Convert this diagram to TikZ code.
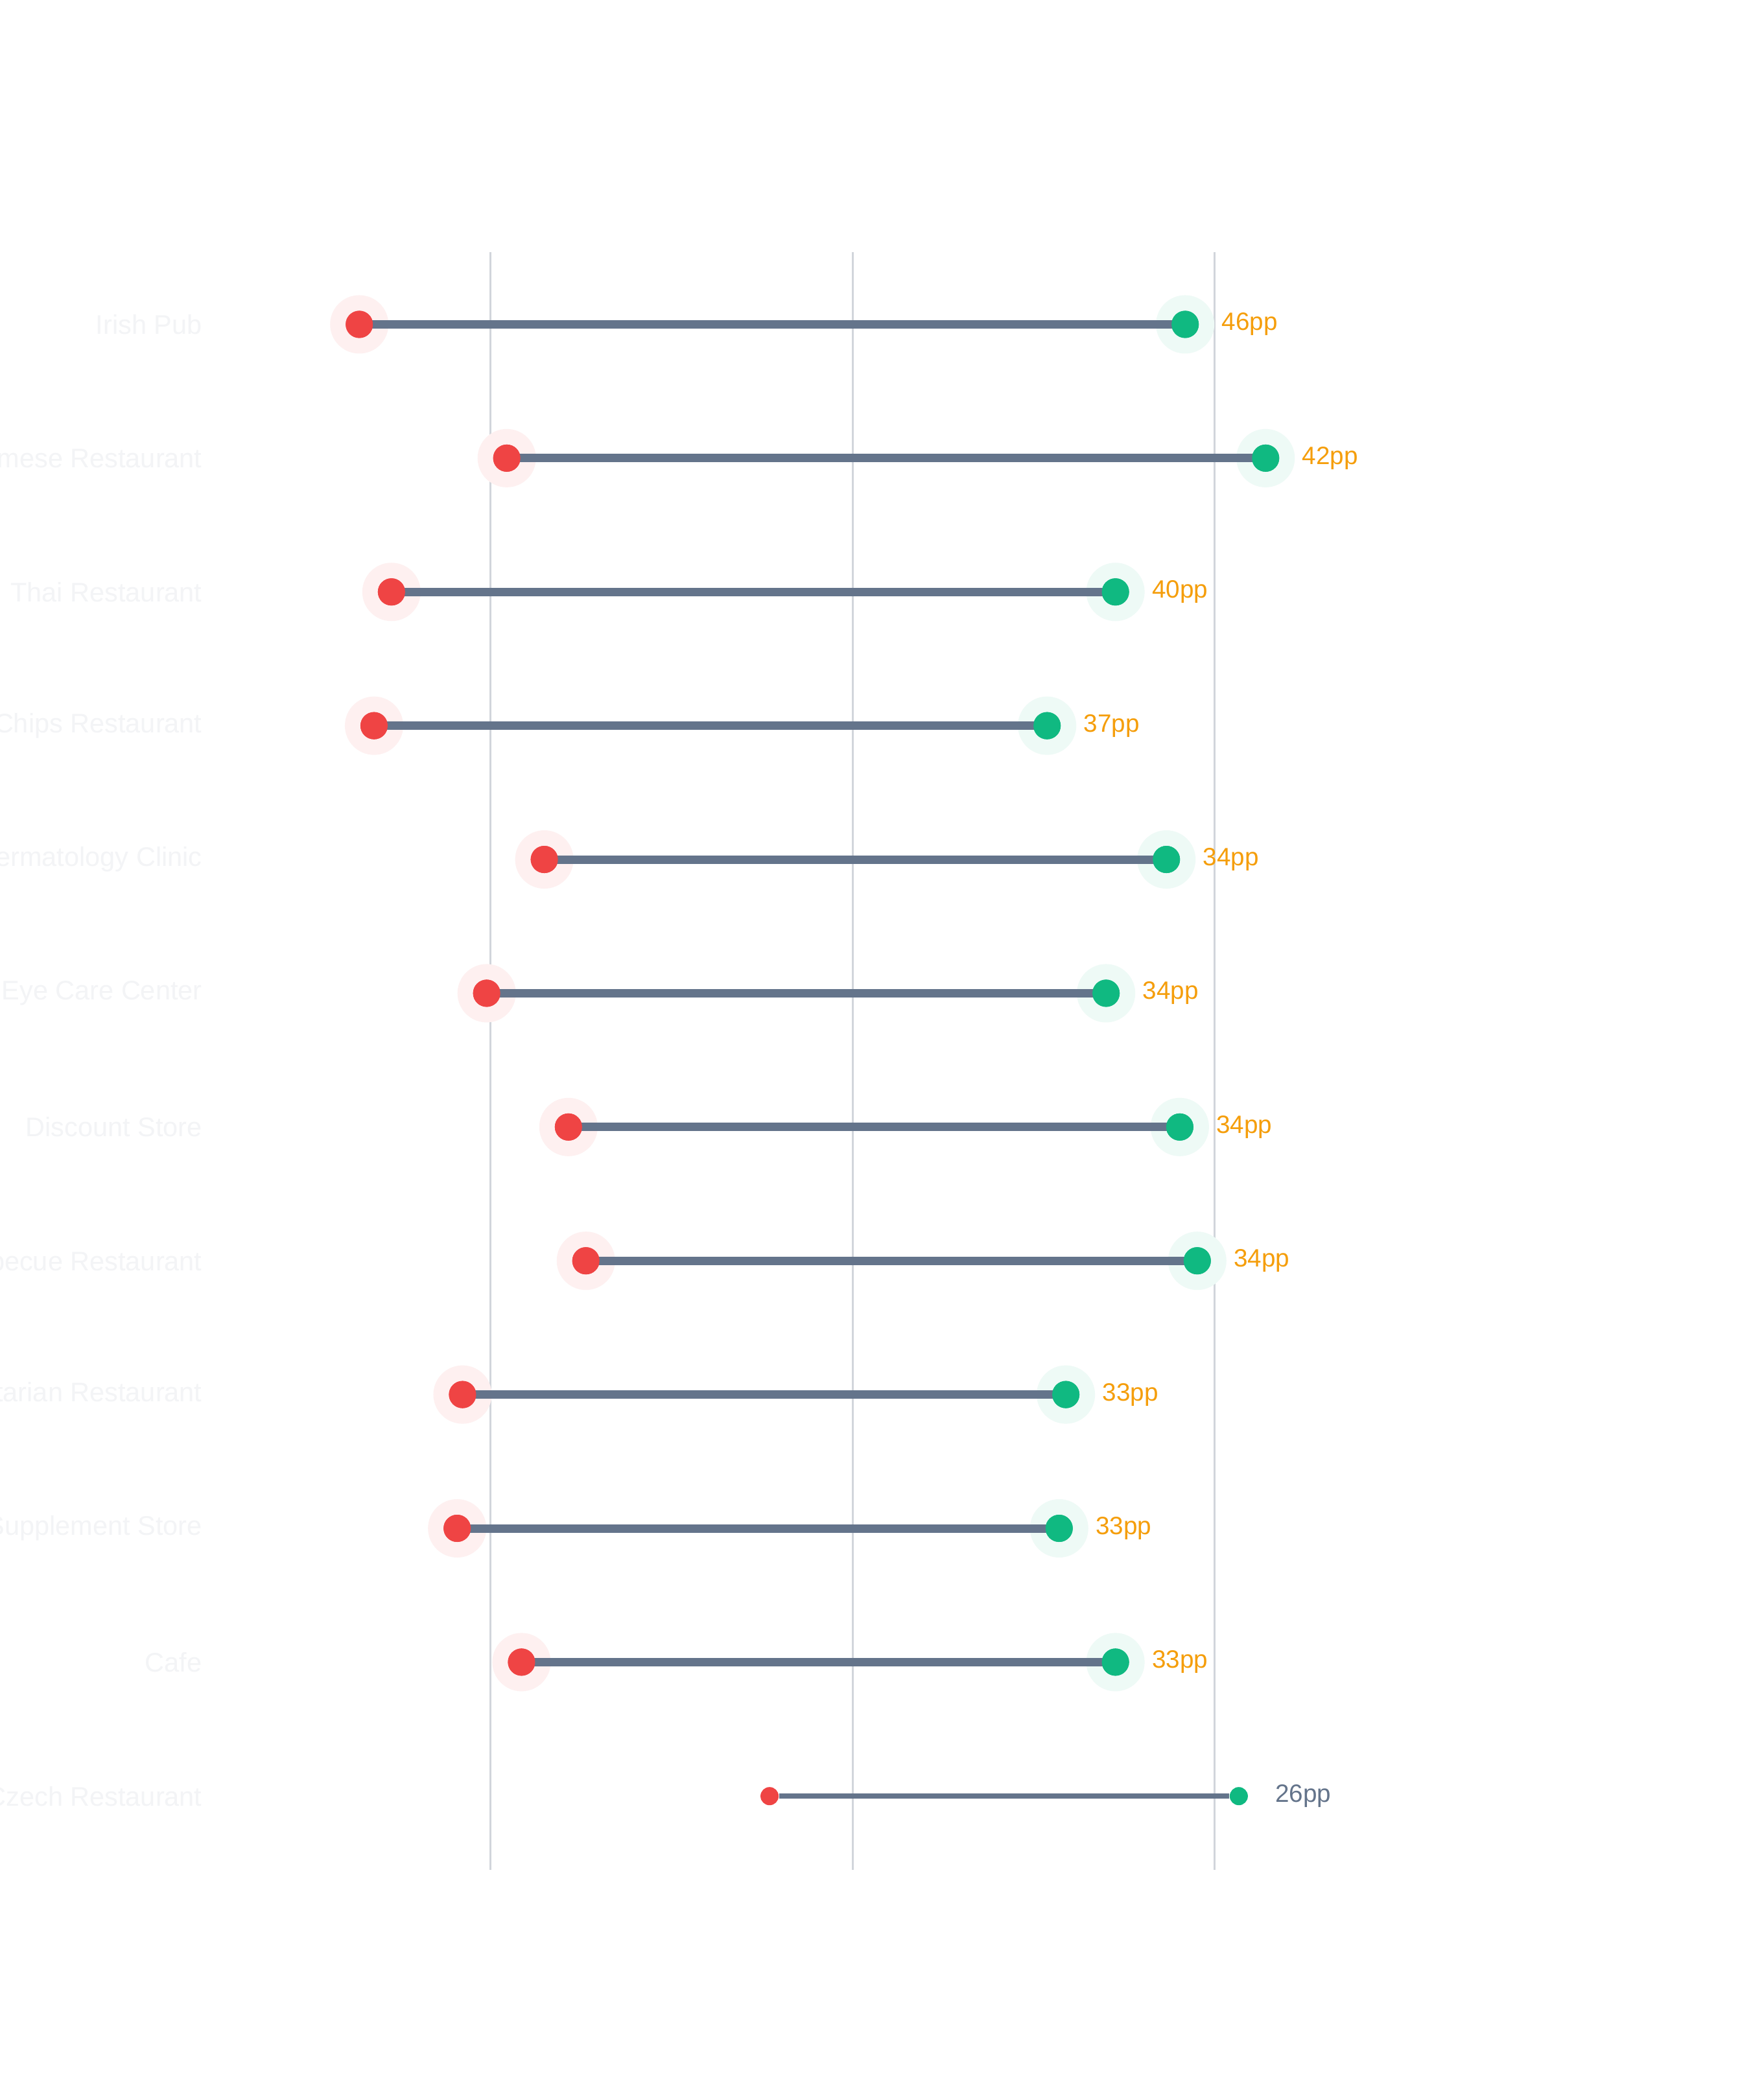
\documentclass[tikz,border=0pt]{standalone}
\usepackage{fontspec}
\setmainfont{Liberation Sans}
\definecolor{redd}{HTML}{EF4444}
\definecolor{grn}{HTML}{10B981}
\definecolor{bar}{HTML}{64748B}
\definecolor{org}{HTML}{F59E0B}
\definecolor{grid}{HTML}{D1D5DB}
\definecolor{faint}{HTML}{F3F4F6}
\begin{document}
\begin{tikzpicture}[x=0.02068cm,y=-0.02068cm,
  gridl/.style={draw=grid,line width=0.85pt},
  conn/.style={draw=bar,line width=3.7pt},
  connS/.style={draw=bar,line width=2.4pt},
  rdot/.style={circle,fill=redd,minimum size=0.42cm,inner sep=0pt},
  gdot/.style={circle,fill=grn,minimum size=0.42cm,inner sep=0pt},
  rdotS/.style={circle,fill=redd,minimum size=0.28cm,inner sep=0pt},
  gdotS/.style={circle,fill=grn,minimum size=0.28cm,inner sep=0pt},
  rhalo/.style={circle,fill=redd!8,minimum size=0.9cm,inner sep=0pt},
  ghalo/.style={circle,fill=grn!7,minimum size=0.9cm,inner sep=0pt},
  cat/.style={anchor=east,text=faint,font=\fontsize{11.8}{14}\selectfont,inner sep=0pt},
  val/.style={anchor=west,text=org,font=\fontsize{11}{14}\selectfont,inner sep=0pt},
  valS/.style={anchor=west,text=bar,font=\fontsize{11}{14}\selectfont,inner sep=0pt}]
\useasboundingbox (0,0) rectangle (1305.6,1566.7);
\clip (0,0) rectangle (1305.6,1566.7);
\fill[white] (0,0) rectangle (1305.6,1566.7);
\coordinate (g1t) at (366,188); \coordinate (g1b) at (366,1395);
\coordinate (g2t) at (636,188); \coordinate (g2b) at (636,1395);
\coordinate (g3t) at (906,188); \coordinate (g3b) at (906,1395);
\draw[gridl] (g1t) -- (g1b);
\draw[gridl] (g2t) -- (g2b);
\draw[gridl] (g3t) -- (g3b);
\foreach \i/\name/\r/\g/\v in {
 0/Irish Pub/268/884/46pp,
 1/Vietnamese Restaurant/378/944/42pp,
 2/Thai Restaurant/292/832/40pp,
 3/Fish \& Chips Restaurant/279/781/37pp,
 4/Dermatology Clinic/406/870/34pp,
 5/Eye Care Center/363/825/34pp,
 6/Discount Store/424/880/34pp,
 7/Barbecue Restaurant/437/893/34pp,
 8/Vegetarian Restaurant/345/795/33pp,
 9/Supplement Store/341/790/33pp,
 10/Cafe/389/832/33pp}{
 \pgfmathsetmacro\yy{242+99.8*\i}
 \node[cat] (c\i) at (151,\yy) {\name};
 \node[rhalo] at (\r,\yy) {};
 \node[ghalo] at (\g,\yy) {};
 \node[rdot] (r\i) at (\r,\yy) {};
 \node[gdot] (g\i) at (\g,\yy) {};
 \draw[conn] (r\i.center) -- (g\i.center);
 \node[rdot] at (\r,\yy) {};
 \node[gdot] at (\g,\yy) {};
 \node[val] (v\i) at (\g+27,\yy) {\v};
}
\node[cat] (c11) at (151,1340) {Czech Restaurant};
\node[rdotS] (r11) at (574,1340) {};
\node[gdotS] (g11) at (924,1340) {};
\draw[connS] (r11) -- (g11);
\node[valS] (v11) at (951,1340) {26pp};
\end{tikzpicture}
\end{document}
